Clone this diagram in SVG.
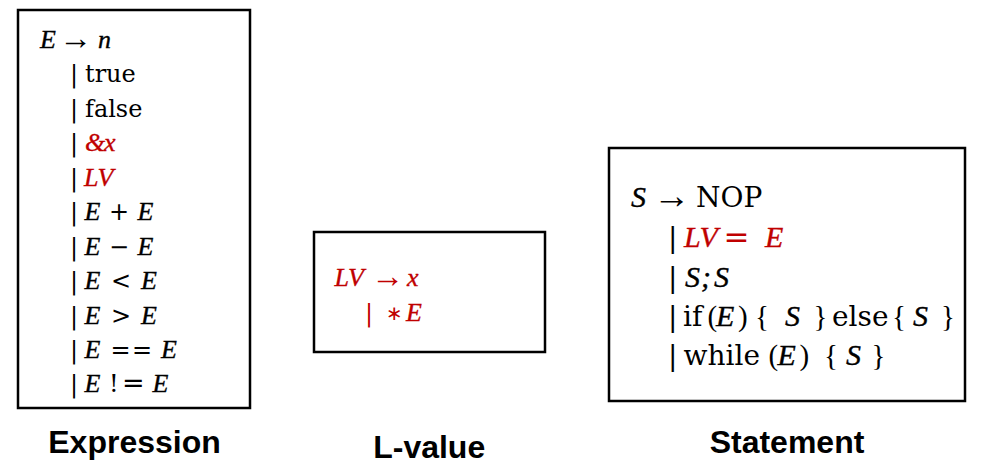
<svg xmlns="http://www.w3.org/2000/svg" width="981" height="472" viewBox="0 0 981 472">
<style>
.box{fill:#fff;stroke:#000;stroke-width:2.5}
.m{font-family:"Liberation Serif","DejaVu Serif",serif;font-style:italic;stroke:currentColor;stroke-width:0.35}
.e .m{font-size:26px}
.s .m{font-size:30px}
.u{font-family:"DejaVu Serif","Liberation Serif",serif;font-style:normal}
.p{font-family:"Liberation Serif","DejaVu Serif",serif;font-style:normal;font-size:29px}
.a{font-family:"Liberation Serif","DejaVu Sans",serif;font-style:normal}
.o{font-family:"DejaVu Sans","Liberation Sans",sans-serif;font-style:normal}
.r{fill:#c00000;color:#c00000}
.e{font-size:24px;fill:#000;color:#000}
.s{font-size:28px;fill:#000;color:#000}
.lbl{font-family:"Liberation Sans",Arial,sans-serif;font-weight:bold;font-size:32px;text-anchor:middle;fill:#000}
</style>
<rect width="981" height="472" fill="#fff"/>
<g id="connectors"/>
<g id="expression">
<rect class="box" x="18" y="10" width="232" height="398"/>
<text class="e" y="47.7"><tspan class="m" x="40">E</tspan><tspan class="a" x="59" font-size="33" dy="1">→</tspan><tspan class="m" x="98" dy="-1">n</tspan></text>
<text class="e" y="82"><tspan class="u" x="70">|</tspan><tspan class="u" x="85">true</tspan></text>
<text class="e" y="116.5"><tspan class="u" x="70">|</tspan><tspan class="u" x="85">false</tspan></text>
<text class="e" y="151"><tspan class="u" x="70">|</tspan><tspan class="m r" x="85">&amp;</tspan><tspan class="m r" x="104">x</tspan></text>
<text class="e" y="185.5"><tspan class="u" x="70">|</tspan><tspan class="m r" x="84">LV</tspan></text>
<text class="e" y="220"><tspan class="u" x="70">|</tspan><tspan class="m" x="84.5">E</tspan><tspan class="o" x="109">+</tspan><tspan class="m" x="137.5">E</tspan></text>
<text class="e" y="254.5"><tspan class="u" x="70">|</tspan><tspan class="m" x="84.5">E</tspan><tspan class="o" x="109">−</tspan><tspan class="m" x="137.5">E</tspan></text>
<text class="e" y="289"><tspan class="u" x="70">|</tspan><tspan class="m" x="84.5">E</tspan><tspan class="o" x="111">&lt;</tspan><tspan class="m" x="141">E</tspan></text>
<text class="e" y="323.5"><tspan class="u" x="70">|</tspan><tspan class="m" x="84.5">E</tspan><tspan class="o" x="111">&gt;</tspan><tspan class="m" x="141">E</tspan></text>
<text class="e" y="358"><tspan class="u" x="70">|</tspan><tspan class="m" x="84.5">E</tspan><tspan class="o" x="110.5">=</tspan><tspan class="o" x="132">=</tspan><tspan class="m" x="161">E</tspan></text>
<text class="e" y="392"><tspan class="u" x="70">|</tspan><tspan class="m" x="84.5">E</tspan><tspan class="u" x="109">!</tspan><tspan class="o" x="122" font-size="27">=</tspan><tspan class="m" x="152.5">E</tspan></text>
<text class="lbl" x="134.5" y="453">Expression</text>
</g>
<g id="lvalue">
<rect class="box" x="314" y="232" width="231" height="120"/>
<text class="e r" y="285.7"><tspan class="m r" x="334.5">LV</tspan><tspan class="a r" x="371" font-size="33" dy="1">→</tspan><tspan class="m r" x="407" dy="-1">x</tspan></text>
<text class="e r" y="321"><tspan class="u r" x="365">|</tspan><tspan class="o r" x="386" font-size="20" dy="-1">∗</tspan><tspan class="m r" x="406" dy="1">E</tspan></text>
<text class="lbl" x="429.2" y="458">L-value</text>
</g>
<g id="statement">
<rect class="box" x="609" y="148" width="356" height="253"/>
<text class="s" y="206.7"><tspan class="m" x="631">S</tspan><tspan class="a" x="653" font-size="37" dy="1">→</tspan><tspan class="u" x="696" dy="-1">NOP</tspan></text>
<text class="s" y="246.7"><tspan class="u" x="668">|</tspan><tspan class="m r" x="684" font-size="27">LV</tspan><tspan class="o r" x="723.5" font-size="31">=</tspan><tspan class="m r" x="765">E</tspan></text>
<text class="s" y="286.7"><tspan class="u" x="668">|</tspan><tspan class="m" x="685">S</tspan><tspan class="m" x="701">;</tspan><tspan class="m" x="714">S</tspan></text>
<text class="s" y="325.7"><tspan class="u" x="668">|</tspan><tspan class="u" x="683">if</tspan><tspan class="p" x="707.5">(</tspan><tspan class="m" x="716">E</tspan><tspan class="p" x="738">)</tspan><tspan class="p" x="755">{</tspan><tspan class="m" x="785">S</tspan><tspan class="p" x="813.5">}</tspan><tspan class="u" x="832">else</tspan><tspan class="p" x="892">{</tspan><tspan class="m" x="913">S</tspan><tspan class="p" x="941">}</tspan></text>
<text class="s" y="365"><tspan class="u" x="668">|</tspan><tspan class="u" x="683.5">while</tspan><tspan class="p" x="768.5">(</tspan><tspan class="m" x="777.5">E</tspan><tspan class="p" x="799.5">)</tspan><tspan class="p" x="824">{</tspan><tspan class="m" x="846">S</tspan><tspan class="p" x="871.5">}</tspan></text>
<text class="lbl" x="787" y="453.3">Statement</text>
</g>
</svg>
